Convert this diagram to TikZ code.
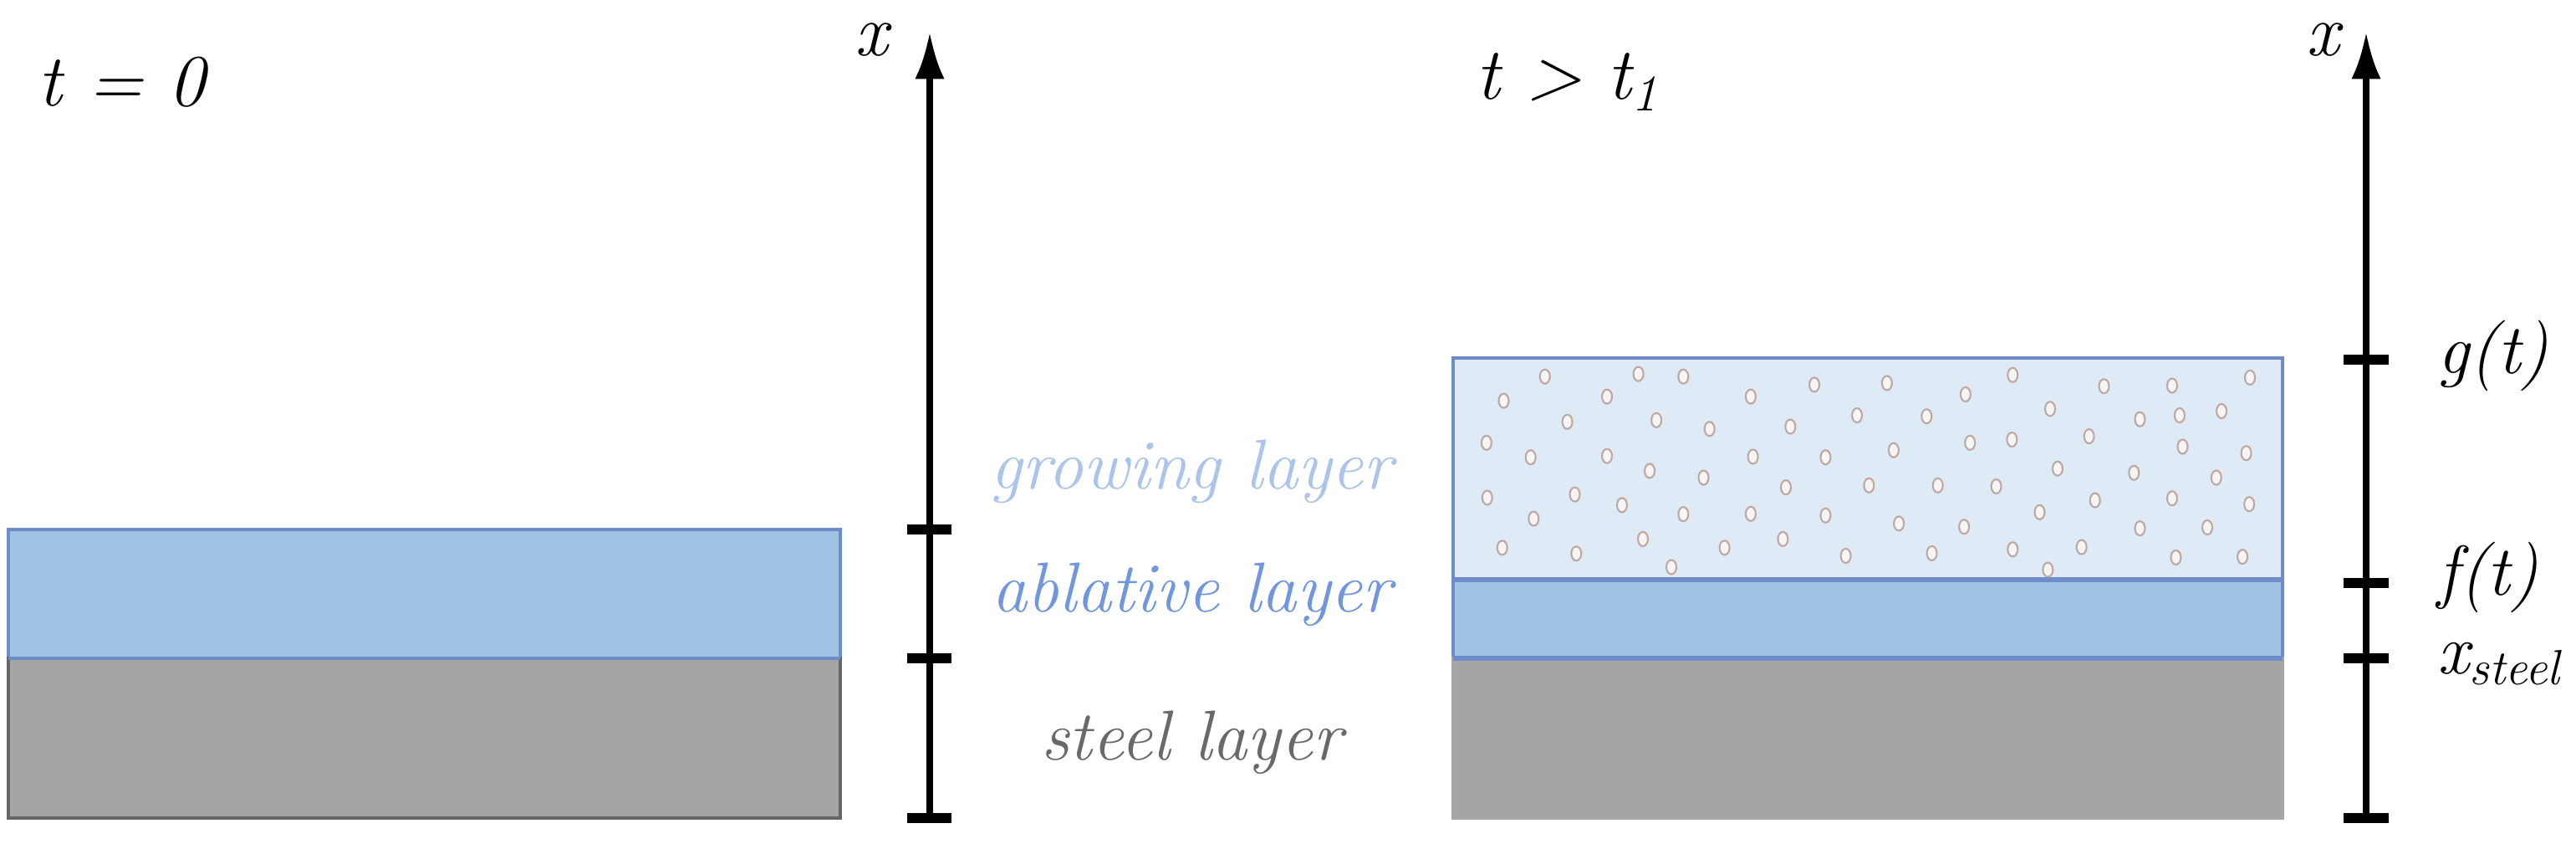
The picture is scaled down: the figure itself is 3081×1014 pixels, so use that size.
\documentclass[tikz,border=0pt]{standalone}
\usetikzlibrary{arrows.meta}
\definecolor{ablblue}{RGB}{159,195,229}
\definecolor{growblue}{RGB}{222,234,246}
\definecolor{edgeblue}{RGB}{110,140,200}
\definecolor{steelgray}{RGB}{165,165,165}
\definecolor{growtxt}{RGB}{170,196,236}
\definecolor{abltxt}{RGB}{112,150,222}
\definecolor{steeltxt}{RGB}{105,105,105}
\definecolor{bubedge}{RGB}{190,168,160}
\tikzset{
  axisline/.style={line width=2.2pt,-{Latex[length=16pt,width=10pt]}},
  tickmark/.style={line width=3.2pt},
  lbl/.style={font=\itshape\fontsize{24}{28}\selectfont,inner sep=0pt},
  big/.style={font=\itshape\fontsize{25}{29}\selectfont,inner sep=0pt},
  bubble/.style={draw=bubedge,fill=white!92!gray,line width=0.6pt}
}
\begin{document}
\begin{tikzpicture}[x=0.01cm,y=-0.01cm]
\useasboundingbox (0,0) rectangle (3081,1014);
% left
\fill[ablblue] (10,633) rectangle (1005,787);
\draw[edgeblue,line width=1pt] (10,633) rectangle (1005,787);
\fill[steelgray] (10,787) rectangle (1005,978);
\draw[gray!80!black,line width=1pt] (10,787) rectangle (1005,978);
\draw[edgeblue,line width=1.2pt] (10,787) -- (1005,787);
% right
\fill[growblue] (1738,428) rectangle (2730,693);
\fill[ablblue] (1738,693) rectangle (2730,787);
\draw[edgeblue,line width=1.2pt] (1738,428) rectangle (2730,787);
\draw[edgeblue,line width=1.6pt] (1738,693) -- (2730,693);
\fill[steelgray] (1738,787) rectangle (2730,978);
\draw[gray!70,line width=1pt] (1738,787) rectangle (2730,978);
\draw[edgeblue,line width=1.6pt] (1738,787) -- (2730,787);
\foreach \a/\b in {165/130,290/122,350/130,525/155,622/150,790/125,912/160,1003/158,1107/133,
110/205,248/192,440/192,727/185,
195/270,314/265,385/292,493/285,582/250,675/253,840/230,960/262,1013/250,1069/237,
87/335,146/380,248/376,443/378,540/380,631/358,733/335,789/325,892/315,1017/347,1102/367,
305/422,377/443,850/415,952/428,1062/443,
88/505,205/495,268/528,487/473,598/467,690/467,768/470,900/513,1003/507,1106/525,
150/570,350/556,440/555,540/560,638/585,725/595,826/550,960/600,1050/597,
108/660,207/678,296/633,405/660,483/633,567/685,682/677,790/665,882/658,1008/690,1097/688,
334/720,837/728}
  \draw[bubble] ({1700+\a/1.117},{400+\b/2.59}) ellipse [x radius=6, y radius=8.5];
% left axis
\coordinate (la0) at (1112,978);
\coordinate (la1) at (1112,38);
\draw[axisline] (la0) -- (la1);
\foreach \y in {633,787,978} \draw[tickmark] (1085,\y) -- (1138,\y);
\node[big] (lx) at (1042,48) {x};
\node[big,anchor=west] (t0) at (45,98) {t = 0};
% right axis
\coordinate (ra0) at (2830,978);
\coordinate (ra1) at (2830,38);
\draw[axisline] (ra0) -- (ra1);
\foreach \y in {430,697,787,978} \draw[tickmark] (2803,\y) -- (2857,\y);
\node[big] (rx) at (2778,48) {x};
\node[big,anchor=west] (t1) at (1765,98) {t > t\textsubscript{1}};
\node[lbl,anchor=west] (g) at (2915,425) {g(t)};
\node[lbl,anchor=west] (f) at (2915,690) {f(t)};
\node[lbl,anchor=base west] (xs) at (2915,805) {x\textsubscript{steel}};
% center labels
\node[lbl,text=growtxt] (gl) at (1425,564) {growing layer};
\node[lbl,text=abltxt] (al) at (1425,711) {ablative layer};
\node[lbl,text=steeltxt] (sl) at (1425,888) {steel layer};
\end{tikzpicture}
\end{document}
